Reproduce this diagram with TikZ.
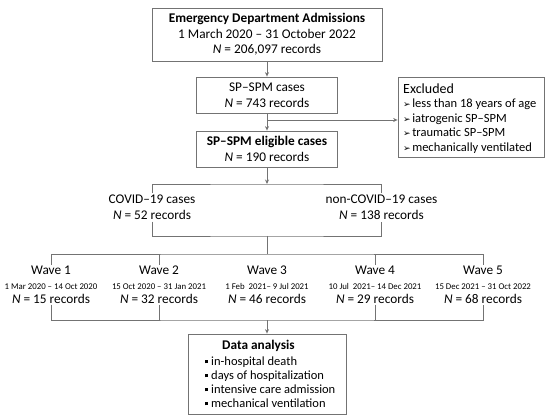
\documentclass[tikz,border=0pt]{standalone}
\usepackage{fontspec}
\setmainfont{Carlito}
\newfontfamily\symfont{DejaVu Sans}
\usetikzlibrary{arrows.meta}

\newcommand{\recs}[1]{\textit{N} = #1 records}
\newcommand{\arrb}{{\symfont\fontsize{9}{9}\selectfont ➢}\hspace{1.5pt}}
\newcommand{\sqb}{\rule[2pt]{3pt}{3pt}\hspace{3pt}}

\begin{document}
\begin{tikzpicture}[x=1pt, y=-1pt, font=\fontsize{13.3}{15.5}\selectfont,
  box/.style={draw=black!55, line width=0.8pt, fill=white, inner sep=0pt, align=center},
  conn/.style={draw=black!55, line width=0.8pt},
  arr/.style={conn, -{Stealth[length=4.5pt, width=4pt]}}]
\useasboundingbox (0,0) rectangle (550,420);

% selection of the cases
\node[box, minimum width=230pt, minimum height=53pt] (eda) at (267,34.5)
  {\textbf{Emergency Department Admissions}\\1 March 2020 – 31 October 2022\\\recs{206,097}};
\node[box, minimum width=141pt, minimum height=36pt] (spm) at (267,95) {SP–SPM cases\\\recs{743}};
\node[box, minimum width=141pt, minimum height=36pt] (elig) at (267,149)
  {\textbf{SP–SPM eligible cases}\\\recs{190}};
\node[box, minimum width=146pt, minimum height=80pt] (excl) at (471,117) {};
\node[anchor=west, align=left, font=\fontsize{12.5}{14.6}\selectfont] (excltxt) at (399.7,118.5)
  {{\fontsize{14}{14.6}\selectfont Excluded}\\\arrb less than 18 years of age\\\arrb iatrogenic SP–SPM\\
   \arrb traumatic SP–SPM\\\arrb mechanically ventilated};

\draw[arr] (eda) -- (spm);
\draw[arr] (spm) -- (elig);
\coordinate (split) at (267,120);
\draw[arr] (split) -- (split -| excl.west);

% COVID split
\coordinate (covtop) at (267,184);
\coordinate (covbot) at (267,236);
\node[anchor=north, align=center, inner sep=2pt] (covid) at (152,193) {COVID–19 cases\\\recs{52}};
\node[anchor=north, align=center, inner sep=2pt] (noncovid) at (381.5,193) {non-COVID–19 cases\\\recs{138}};
\draw[arr] (elig) -- (covtop);
\draw[conn] (covid.north) |- (covtop) -| (noncovid.north);
\draw[conn] (covid.south) |- (covbot) -| (noncovid.south);

% waves
\coordinate (wavetop) at (267,254);
\coordinate (wavebot) at (267,320);
\foreach \i/\x/\d/\n in {1/51/{1 Mar 2020 – 14 Oct 2020}/15, 2/159/{15 Oct 2020 – 31 Jan 2021}/32,
    3/267/{1 Feb~ 2021– 9 Jul 2021}/46, 4/375/{10 Jul~ 2021– 14 Dec 2021}/29,
    5/483/{15 Dec 2021 – 31 Oct 2022}/68}
  \node[anchor=north, align=center, inner sep=1pt] (w\i) at (\x,265)
    {Wave \i\\[-1pt]{\fontsize{8.8}{10}\selectfont \d}\\[-1.5pt]\recs{\n}};
\draw[conn] (covbot) -- (wavetop);
\draw[conn] (w1.north) |- (wavetop) -| (w5.north);
\draw[conn] (w1.south) |- (wavebot) -| (w5.south);
\foreach \i in {2,4} {
  \draw[conn] (w\i.north) -- (w\i.north |- wavetop);
  \draw[conn] (w\i.south) -- (w\i.south |- wavebot);
}

% outcomes
\node[box, minimum width=158pt, minimum height=80pt] (data) at (267,374) {};
\node (datahead) at (258.5,346) {\textbf{Data analysis}};
\node[anchor=west, align=left, font=\fontsize{12.5}{14}\selectfont] (datalist) at (201.7,382)
  {\sqb in-hospital death\\\sqb days of hospitalization\\\sqb intensive care admission\\\sqb mechanical ventilation};
\draw[arr] (wavebot) -- (data);
\end{tikzpicture}
\end{document}
